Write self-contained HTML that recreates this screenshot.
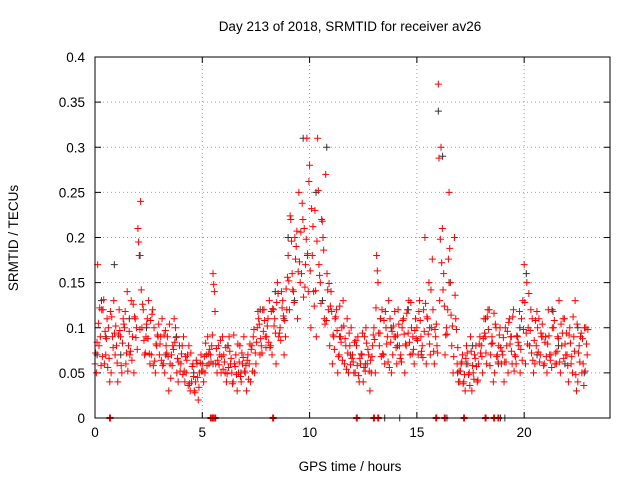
<!DOCTYPE html>
<html><head><meta charset="utf-8"><style>
body{margin:0;background:#fff;}
svg{display:block;font-family:"Liberation Sans",sans-serif;}
</style></head><body>
<svg id="chart" width="640" height="480">
<text x="350" y="31" text-anchor="middle" font-size="13.5">Day 213 of 2018, SRMTID for receiver av26</text>
<text x="0" y="0" transform="translate(18,238) rotate(-90)" text-anchor="middle" font-size="13.5">SRMTID / TECUs</text>
<text x="350" y="471" text-anchor="middle" font-size="13.5">GPS time / hours</text>
<g id="grid"></g><g id="axes"></g><g id="black"></g><g id="red"></g>
<rect x="95" y="57" width="515" height="361" fill="none" stroke="#000" stroke-width="1"/>
</svg>
<script>
const xTicks=[0,5,10,15,20];
const yTicks=[0,0.05,0.1,0.15,0.2,0.25,0.3,0.35,0.4];
const yTickLabels=["0","0.05","0.1","0.15","0.2","0.25","0.3","0.35","0.4"];
const timeStep=0.125;
const redA=[.06,.17,.09,.12,.07,.10,.05,.13, .08,.12,.05,.10,.14,.07,.09,.11, .21,.24,.12,.09,.13,.07,.10,.08, .07,.11,.05,.09,.06,.08,.10,.04, .06,.09,.05,.08,.04,.03,.06,.05, .06,.05,.09,.07,.16,.06,.08,.05, .07,.04,.09,.05,.06,.03,.08,.06, .05,.07,.04,.09,.06,.11,.08,.12, .09,.13,.07,.11,.15,.10,.13,.09, .18,.22,.14,.19,.25,.16,.21,.31, .28,.18,.23,.31,.15,.20,.27,.12, .14,.09,.12,.07,.10,.06,.11,.08, .07,.05,.09,.06,.04,.10,.07,.05, .10,.18,.08,.12,.06,.09,.11,.07, .09,.12,.07,.11,.08,.13,.10,.06, .10,.13,.08,.20,.11,.07,.12,.09, .37,.30,.16,.10,.25,.08,.20,.06, .04,.07,.03,.06,.09,.05,.08,.06, .08,.11,.06,.12,.09,.05,.07,.10, .07,.10,.05,.09,.12,.06,.08,.11, .17,.15,.08,.11,.06,.10,.07,.09, .09,.12,.07,.10,.06,.13,.08,.11, .07,.10,.05,.13,.04,.09,.06,.10];
const redB=[.05,.08,.12,.06,.11,.04,.09,.07, .04,.09,.11,.06,.08,.13,.05,.10, .18,.10,.07,.11,.06,.12,.05,.09, .09,.06,.08,.03,.07,.11,.05,.08, .08,.04,.07,.03,.06,.04,.02,.07, .04,.07,.06,.08,.14,.05,.07,.09, .05,.08,.06,.04,.07,.05,.04,.09, .03,.06,.08,.05,.10,.07,.12,.09, .11,.08,.12,.06,.09,.14,.07,.12, .12,.16,.20,.11,.15,.22,.17,.14, .10,.14,.09,.17,.22,.11,.16,.08, .06,.11,.05,.09,.13,.08,.05,.10, .05,.08,.04,.07,.09,.06,.03,.08, .05,.15,.11,.07,.10,.13,.05,.09, .06,.08,.10,.05,.12,.07,.09,.11, .07,.09,.12,.06,.15,.10,.06,.08, .13,.21,.07,.12,.15,.05,.11,.04, .06,.04,.08,.05,.03,.07,.04,.09, .05,.09,.12,.07,.04,.10,.08,.06, .04,.08,.11,.06,.07,.09,.05,.13, .06,.10,.12,.05,.08,.11,.09,.06, .05,.07,.10,.06,.09,.05,.11,.07, .04,.06,.09,.03,.08,.05,.10,.07];
const redC=[.072,.105,.058,.131,.088,.066,.112,.094, .061,.097,.083,.118,.052,.074,.126,.089, .195,.142,.086,.104,.071,.115,.063,.092, .082,.058,.097,.068,.044,.076,.089,.062, .071,.052,.064,.038,.057,.028,.045,.061, .052,.083,.071,.062,.148,.077,.059,.068, .062,.049,.074,.038,.057,.082,.046,.067, .058,.043,.076,.098,.084,.104,.072,.108, .102,.078,.121,.094,.138,.086,.113,.143, .152,.196,.128,.207,.173,.238,.145,.182, .163,.212,.141,.252,.127,.186,.108,.149, .118,.076,.097,.124,.064,.088,.072,.059, .062,.086,.047,.071,.056,.083,.052,.068, .087,.163,.094,.071,.118,.062,.084,.102, .078,.104,.062,.093,.116,.084,.071,.097, .086,.108,.067,.127,.093,.142,.074,.104, .288,.172,.124,.093,.188,.102,.136,.078, .052,.038,.066,.048,.074,.043,.057,.082, .068,.094,.112,.058,.083,.104,.062,.078, .089,.062,.106,.074,.052,.091,.118,.064, .128,.082,.097,.064,.108,.073,.094,.058, .068,.091,.056,.108,.074,.062,.094,.082, .058,.083,.112,.048,.072,.094,.036,.082];
const redD=[.084,.122,.068,.096,.056,.118,.078,.102, .092,.058,.104,.072,.096,.064,.112,.076, .098,.126,.072,.088,.108,.058,.082,.104, .064,.092,.072,.104,.058,.084,.066,.052, .048,.068,.036,.072,.046,.064,.034,.052, .068,.058,.076,.092,.118,.064,.086,.054, .078,.056,.066,.092,.048,.062,.072,.052, .064,.082,.052,.072,.118,.088,.096,.078, .084,.118,.102,.128,.094,.122,.108,.156, .224,.142,.176,.162,.206,.134,.198,.262, .232,.124,.196,.158,.218,.104,.142,.124, .092,.112,.068,.084,.102,.054,.094,.066, .084,.058,.066,.094,.052,.076,.064,.092, .122,.094,.068,.108,.082,.056,.096,.118, .092,.066,.108,.082,.094,.128,.076,.088, .118,.074,.096,.112,.082,.176,.098,.072, .198,.142,.092,.176,.114,.068,.098,.052, .062,.048,.072,.036,.058,.066,.042,.072, .088,.072,.098,.082,.116,.068,.092,.074, .062,.096,.082,.112,.068,.084,.076,.098, .094,.138,.072,.086,.118,.062,.104,.084, .082,.064,.118,.072,.088,.104,.066,.094, .092,.068,.074,.104,.062,.088,.052,.098];
const blackTimes=[0.3,0.5,0.9,1.6,2.1,2.4,3.3,4.6,5.5,6.2,7.7,8.4,9.0,9.3,9.7,9.9,10.3,10.6,10.8,11.4,12.6,13.3,14.1,14.6,15.2,15.6,16.0,16.2,16.5,16.9,17.6,18.2,18.8,19.4,20.1,20.6,21.3,21.9,22.5,22.8,1.2,3.8,6.8,8.8,11.9,13.8,17.3,19.8,21.6,0.1];
const blackValues=[.13,.09,.17,.11,.18,.10,.07,.05,.06,.08,.12,.14,.20,.13,.31,.18,.25,.13,.30,.09,.06,.11,.08,.12,.07,.10,.34,.29,.15,.05,.08,.11,.06,.09,.16,.07,.12,.06,.10,.05,.07,.09,.05,.11,.07,.10,.06,.10,.08,.07];
const zeroRed=[0.7,5.4,5.5,5.6,8.3,12.2,13.0,13.2,15.9,16.3,17.2,18.2,18.6,18.8];
const zeroBlack=[13.5,14.2,16.4,18.9,19.1];
const X0=95,X1=610,Y0=418,Y1=57;
const xs=t=>X0+t*(X1-X0)/24;
const ys=v=>Y0-v*(Y0-Y1)/0.4;
const NS="http://www.w3.org/2000/svg";
function mk(tag,attrs,parent){const e=document.createElementNS(NS,tag);for(const k in attrs)e.setAttribute(k,attrs[k]);parent.appendChild(e);return e;}
const grid=document.getElementById('grid'),axes=document.getElementById('axes');
xTicks.forEach(t=>{
  const x=xs(t);
  if(t>0){const g=mk('line',{x1:x,x2:x,y1:Y1,y2:Y0,stroke:'#a0a0a0','stroke-dasharray':'1,3'},grid);
  
  }
  mk('line',{x1:x,x2:x,y1:Y0,y2:Y0-6,stroke:'#000'},axes);
  mk('line',{x1:x,x2:x,y1:Y1,y2:Y1+6,stroke:'#000'},axes);
  const l=mk('text',{x:x,y:Y0+19,'text-anchor':'middle','font-size':'13.5'},axes);l.textContent=t;
  
  
});
yTicks.forEach((v,i)=>{
  const y=ys(v);
  if(i>0&&i<yTicks.length-1){const g=mk('line',{x1:X0,x2:X1,y1:y,y2:y,stroke:'#a0a0a0','stroke-dasharray':'1,3'},grid);
  
  }
  mk('line',{x1:X0,x2:X0+6,y1:y,y2:y,stroke:'#000'},axes);
  mk('line',{x1:X1,x2:X1-6,y1:y,y2:y,stroke:'#000'},axes);
  const l=mk('text',{x:X0-10,y:y+5,'text-anchor':'end','font-size':'13.5'},axes);l.textContent=yTickLabels[i];
  
  
});
function plus(g,t,v,color,name,w){
  const x=xs(t),y=ys(v);
  const p=mk('path',{d:`M${x-3.5},${y}h7M${x},${y-3.5}v7`,stroke:color,'stroke-width':w||1,fill:'none'},g);
  
  
}
const gb=document.getElementById('black'),gr=document.getElementById('red');
blackTimes.forEach((t,i)=>plus(gb,t,blackValues[i],'#333','black-point'));
zeroBlack.forEach(t=>plus(gb,t,0,'#333','black-zero-point'));
redA.forEach((v,i)=>plus(gr,i*timeStep,v,'#f00','red-point'));
redB.forEach((v,i)=>plus(gr,i*timeStep+timeStep/2,v,'#f00','red-point'));
redC.forEach((v,i)=>plus(gr,i*timeStep+timeStep/4,v,'#f00','red-point'));
redD.forEach((v,i)=>plus(gr,i*timeStep+3*timeStep/4,v,'#f00','red-point'));
zeroRed.forEach(t=>plus(gr,t,0,'#f00','red-zero-point',2));
</script>
</body></html>
